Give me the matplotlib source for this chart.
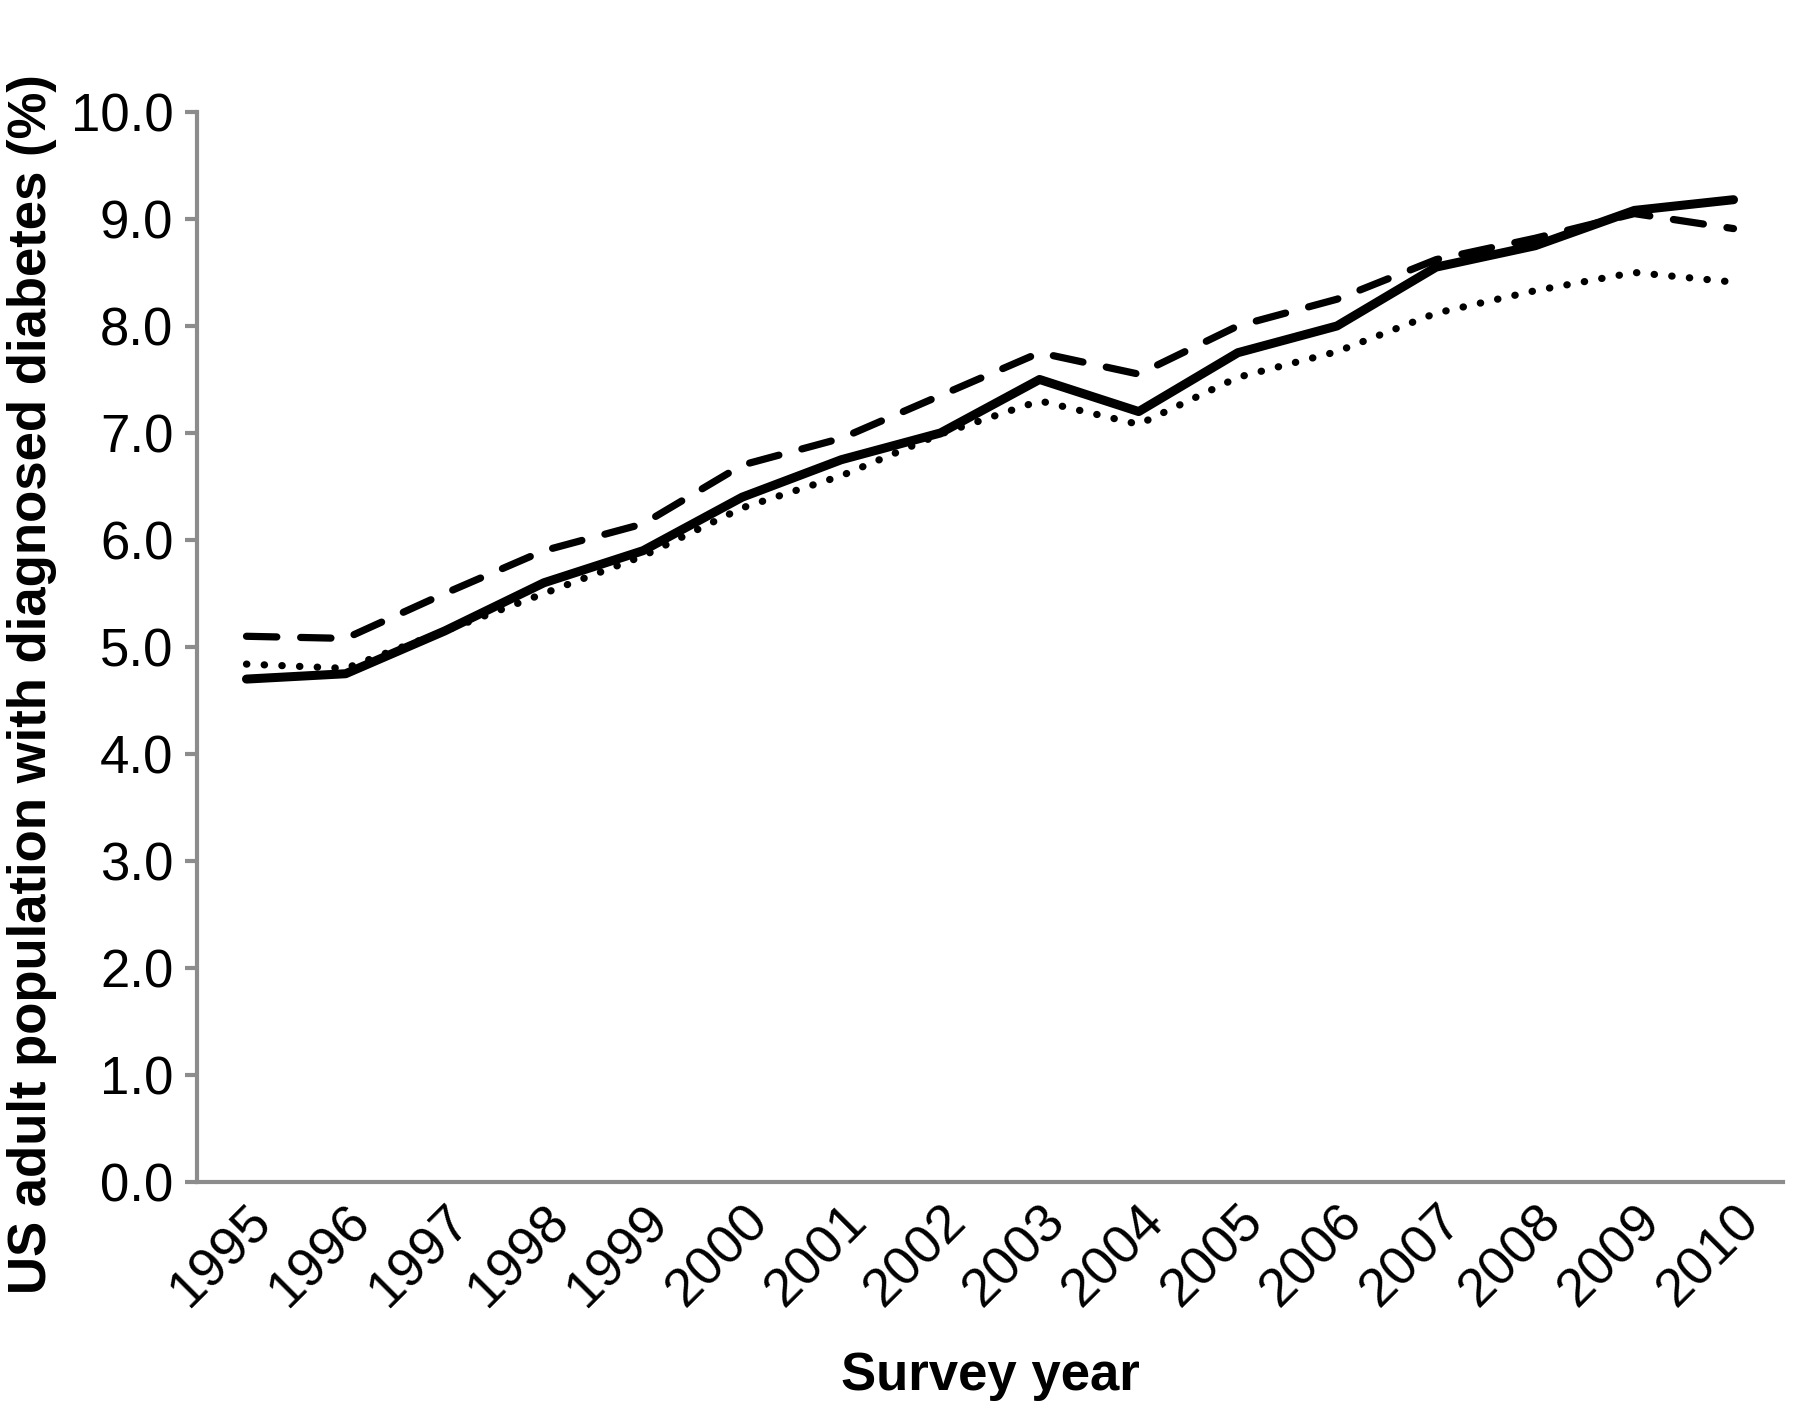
import matplotlib
matplotlib.use("Agg")
import matplotlib.pyplot as plt
import matplotlib.transforms as mtransforms
import numpy as np

years = ["1995", "1996", "1997", "1998", "1999", "2000", "2001", "2002",
         "2003", "2004", "2005", "2006", "2007", "2008", "2009", "2010"]

# three series (percent)
solid = [4.70, 4.75, 5.15, 5.60, 5.90, 6.40, 6.75, 7.00,
         7.50, 7.20, 7.75, 8.00, 8.55, 8.75, 9.08, 9.18]
dashed = [5.10, 5.08, 5.50, 5.90, 6.15, 6.70, 6.95, 7.35,
          7.75, 7.55, 8.00, 8.25, 8.62, 8.82, 9.05, 8.91]
dotted = [4.84, 4.80, 5.15, 5.50, 5.85, 6.30, 6.60, 6.99,
          7.30, 7.08, 7.52, 7.76, 8.12, 8.33, 8.50, 8.41]

yticks = np.arange(0, 10.5, 1.0)

plt.rcParams['font.family'] = ['Liberation Sans', 'DejaVu Sans']

fig = plt.figure(figsize=(18, 14.1), dpi=100)
ax = fig.add_axes([0.1094, 0.1617, 0.8812, 0.7589])

x = np.arange(len(years))
ax.plot(x, dotted, color='black', lw=5.2, linestyle=(0, (0.05, 2.4)),
        dash_capstyle='round', solid_capstyle='round')
ax.plot(x, dashed, color='black', lw=5.2, linestyle=(0, (4.2, 3.3)),
        dash_capstyle='round')
ax.plot(x, solid, color='black', lw=6.5, solid_capstyle='round',
        solid_joinstyle='round')

ax.set_xlim(-0.5, len(years) - 0.5)
ax.set_ylim(0, 10)
ax.set_yticks(yticks)
ax.set_yticklabels([f"{v:.1f}" for v in yticks], fontsize=38)
ax.set_xticks(x)
ax.set_xticklabels(years, fontsize=39, rotation=45, ha='right', va='top',
                   rotation_mode='anchor')
# nudge the rotated year labels a little to the left
shift = mtransforms.ScaledTranslation(-0.05, 0, fig.dpi_scale_trans)
for lbl in ax.get_xticklabels():
    lbl.set_transform(lbl.get_transform() + shift)

for side in ['top', 'right']:
    ax.spines[side].set_visible(False)
for side in ['left', 'bottom']:
    ax.spines[side].set_color('#8c8c8c')
    ax.spines[side].set_linewidth(3)

ax.tick_params(axis='y', direction='out', length=9, width=3,
               color='#8c8c8c', pad=8)
ax.tick_params(axis='x', length=0, pad=10)

ax.set_xlabel("Survey year", fontsize=38, fontweight='bold')
ax.xaxis.set_label_coords(0.5, -0.158)
ax.set_ylabel("US adult population with diagnosed diabetes (%)",
              fontsize=38, fontweight='bold')
ax.yaxis.set_label_coords(-0.088, 0.465)

fig.savefig("out.png", dpi=100, facecolor='white')
